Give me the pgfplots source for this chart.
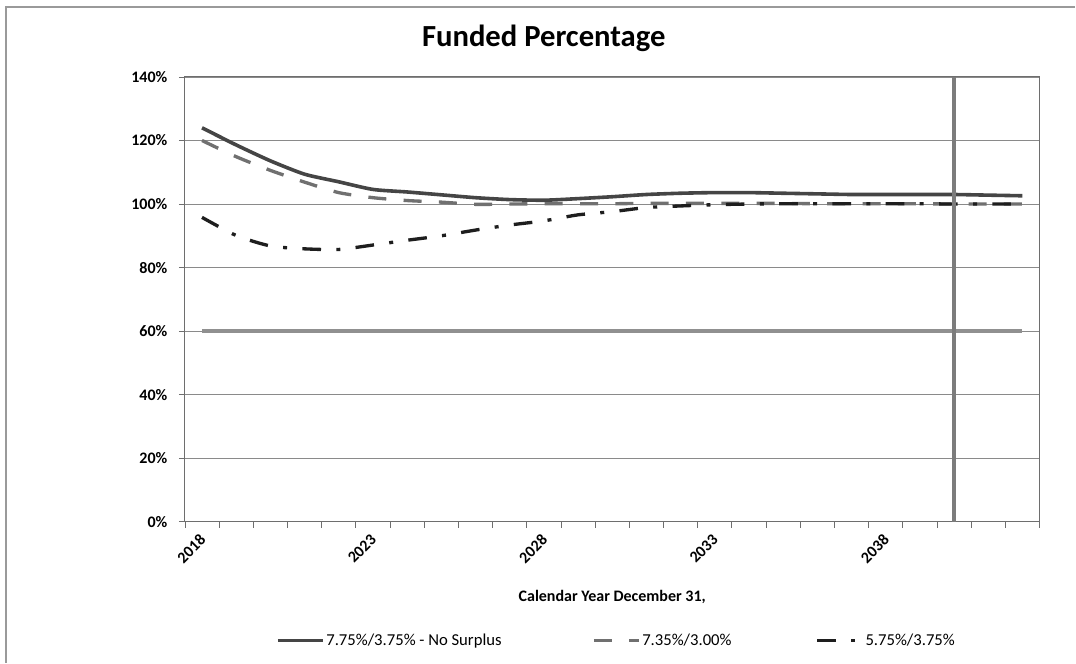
\documentclass[border=0pt]{standalone}
\usepackage{fontspec}
\setmainfont{Carlito}
\usepackage{pgfplots}
\usepackage{pgfplotstable}
\pgfplotsset{compat=1.18}

\definecolor{solidc}{HTML}{454545}
\definecolor{dashc}{HTML}{707070}
\definecolor{dotc}{HTML}{1E1E1E}
\definecolor{refc}{HTML}{909090}
\definecolor{vrefc}{HTML}{7C7C7C}
\definecolor{gridc}{HTML}{8A8A8A}
\definecolor{framec}{HTML}{9A9A9A}

% x = category index (0 = 2018 ... 24 = 2042)
\pgfplotstableread{
x   nosurplus  alt735  alt575  ref
0   124.0      120.0   95.8    60
1   118.6      114.9   90.1    60
2   113.6      110.6   86.8    60
3   109.4      106.9   85.9    60
4   107.0      103.6   85.7    60
5   104.6      102.0   87.1    60
6   103.8      101.1   88.6    60
7   102.9      100.6   90.0    60
8   102.0       99.9   91.8    60
9   101.4      100.0   93.4    60
10  101.2      100.1   94.7    60
11  101.7      100.1   96.6    60
12  102.3      100.1   97.6    60
13  103.0      100.2   98.9    60
14  103.4      100.2   99.4    60
15  103.6      100.2   99.8    60
16  103.6      100.2  100.0    60
17  103.4      100.2  100.1    60
18  103.2      100.1  100.1    60
19  103.0      100.1  100.1    60
20  103.0      100.1  100.1    60
21  103.0      100.1  100.1    60
22  103.0      100.0  100.0    60
23  102.8      100.0  100.0    60
24  102.6      100.0  100.0    60
}\fundtable

\begin{document}
\begin{tikzpicture}
\begin{axis}[
  scale only axis,
  width=641.25pt, height=333.75pt,
  xmin=-0.5, xmax=24.5, ymin=0, ymax=140,
  axis line style={draw=gridc!80!black, line width=0.7pt},
  tick pos=left,
  tick align=outside,
  major tick length=0pt,
  minor tick length=4.5pt,
  tick style={draw=gridc!80!black, line width=0.6pt},
  ytick={0,20,...,140},
  minor ytick={0,20,...,140},
  yticklabel={\pgfmathprintnumber{\tick}\%},
  /pgf/number format/assume math mode=true,
  yticklabel style={font=\bfseries\fontsize{12}{14}\selectfont, inner sep=0pt, xshift=-13pt},
  xtick={0,5,10,15,20},
  xticklabels={2018,2023,2028,2033,2038},
  minor xtick={-0.5,0.5,...,24.5},
  xticklabel style={font=\bfseries\fontsize{12}{14}\selectfont, xshift=-2.5pt, yshift=-8.5pt, rotate=45, anchor=north east, inner sep=0pt},
  ymajorgrids,
  major grid style={draw=gridc, line width=0.6pt},
  xlabel={Calendar Year December 31,},
  xlabel style={font=\bfseries\fontsize{12}{14}\selectfont, at={(axis description cs:0.5,0)}, anchor=base, yshift=-60pt},
  legend columns=3,
  legend style={at={(axis description cs:0.1064,-0.2674)}, anchor=west, draw=none, fill=none,
    inner sep=0pt, font=\fontsize{12.5}{14}\selectfont,
    nodes={inner xsep=1pt, inner ysep=1pt},
    /tikz/column 2/.style={column sep=67pt},
    /tikz/column 4/.style={column sep=62pt}},
  legend image code/.code={\draw[#1] (0pt,0pt) -- (34pt,0pt);},
  legend cell align=left,
]
\addplot[refc, line width=3pt, forget plot] table[x=x, y=ref] {\fundtable};
\addplot[solidc, line width=2.7pt, smooth, tension=0.4] table[x=x, y=nosurplus] {\fundtable};
\addlegendentry{7.75\%/3.75\% - No Surplus}
\addplot[dashc, line width=2.5pt, smooth, tension=0.4, dash pattern=on 13.5pt off 13pt] table[x=x, y=alt735] {\fundtable};
\addlegendentry{7.35\%/3.00\%}
\addplot[dotc, line width=2.5pt, smooth, tension=0.4, dash pattern=on 14pt off 11.5pt on 3pt off 11.5pt] table[x=x, y=alt575] {\fundtable};
\addlegendentry{5.75\%/3.75\%}
\addplot[vrefc, line width=3.3pt, forget plot] coordinates {(22,0) (22,140)};
\end{axis}
\node[anchor=base, font=\bfseries\fontsize{23}{27}\selectfont] at (269.25pt,356.25pt) {Funded Percentage};
\draw[framec, line width=0.8pt] (-134.25pt,-105.75pt) -- (-134.25pt,386.25pt) -- (668.25pt,386.25pt);
\path[use as bounding box] (-138.75pt,-105.75pt) rectangle (668.25pt,391.5pt);
\end{tikzpicture}
\end{document}
